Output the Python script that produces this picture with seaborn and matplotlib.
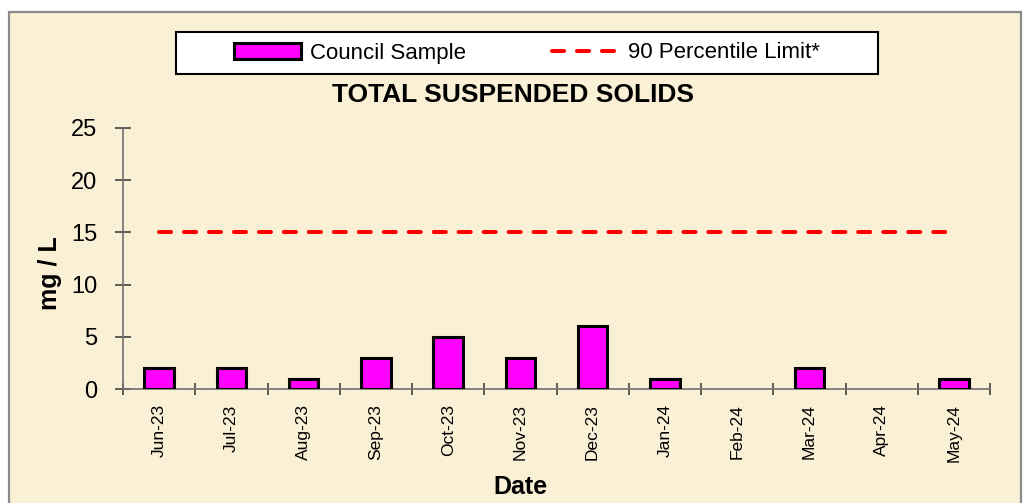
import numpy as np
import pandas as pd
import seaborn as sns
import matplotlib.pyplot as plt
from matplotlib.patches import Patch, Rectangle
from matplotlib.lines import Line2D

months = ["Jun-23", "Jul-23", "Aug-23", "Sep-23", "Oct-23", "Nov-23",
          "Dec-23", "Jan-24", "Feb-24", "Mar-24", "Apr-24", "May-24"]
council_sample = [2, 2, 1, 3, 5, 3, 6, 1, np.nan, 2, np.nan, 1]
limit_90 = [15] * 12

title = "TOTAL SUSPENDED SOLIDS"
sample_label = "Council Sample"
limit_label = "90 Percentile Limit*"

sns.set_style("white")
plt.rcParams["font.family"] = ["Liberation Sans", "DejaVu Sans"]
plt.rcParams["text.color"] = "black"
plt.rcParams["axes.labelcolor"] = "black"
plt.rcParams["xtick.color"] = "black"
plt.rcParams["ytick.color"] = "black"

paper = "#FAF0D6"
W, H = 1028, 503

fig = plt.figure(figsize=(W / 100, H / 100), dpi=100)
fig.patch.set_facecolor("white")

# parchment panel with grey border
fig.patches.append(Rectangle((9 / W, -0.05), 1012 / W, 1.05 - 12 / H,
                             transform=fig.transFigure, facecolor=paper,
                             edgecolor="#8a8a8a", linewidth=1.6, zorder=-2))

ax = fig.add_axes([123 / W, 1 - 389 / H, 867 / W, 261 / H])
ax.set_facecolor("none")

df = pd.DataFrame({"month": months, "value": council_sample, "limit": limit_90})

sns.barplot(data=df, x="month", y="value", order=months, width=0.41,
            color="#FF00FF", edgecolor="black", linewidth=2.2,
            saturation=1, ax=ax, zorder=3)
sns.pointplot(data=df, x="month", y="limit", order=months, color="#FF0000",
              marker="", linewidth=2.9, dashes=(3, 3.2), dash_capstyle="round",
              errorbar=None, ax=ax, zorder=4)

ax.set_xlim(-0.5, len(months) - 0.5)
ax.set_ylim(0, 25)
ax.set_yticks(range(0, 26, 5))

ax.set_xticks(np.arange(-0.5, len(months), 1.0), minor=True)
ax.tick_params(axis="x", which="major", bottom=True, length=0, pad=11,
               labelsize=12.5, labelrotation=90)
ax.tick_params(axis="x", which="minor", bottom=True, length=9, width=1.1,
               direction="inout", color="#333333")
ax.tick_params(axis="y", left=True, length=11, width=1.1, direction="inout",
               color="#333333", pad=13, labelsize=17)

for side in ["top", "right"]:
    ax.spines[side].set_visible(False)
for side in ["left", "bottom"]:
    ax.spines[side].set_color("#707070")
    ax.spines[side].set_linewidth(1.2)

ax.set_xlabel("Date", fontsize=18, fontweight="bold")
ax.set_ylabel("mg / L", fontsize=18, fontweight="bold")
ax.xaxis.set_label_coords(0.458, -0.375)
ax.xaxis.label.set_va("center")
ax.yaxis.set_label_coords(-0.084, 0.444)
ax.yaxis.label.set_va("center")

fig.text(513 / W, 1 - 95 / H, title, ha="center", va="center",
         fontsize=19, fontweight="bold")

# legend box
fig.patches.append(Rectangle((176 / W, 1 - 74 / H), 702 / W, 42 / H,
                             transform=fig.transFigure, facecolor="white",
                             edgecolor="black", linewidth=1.5, zorder=1))
handles = [
    Patch(facecolor="#FF00FF", edgecolor="black", linewidth=2.2),
    Line2D([0], [0], color="#FF0000", linewidth=2.9, dashes=(3, 3.2),
           dash_capstyle="round"),
]
fig.legend(handles, [sample_label, limit_label], loc="center",
           bbox_to_anchor=(527 / W, 1 - 53 / H), ncol=2, frameon=False,
           fontsize=16, handlelength=3.0, handletextpad=0.4,
           columnspacing=3.9, handleheight=0.7)

fig.savefig("out.png", dpi=100)
